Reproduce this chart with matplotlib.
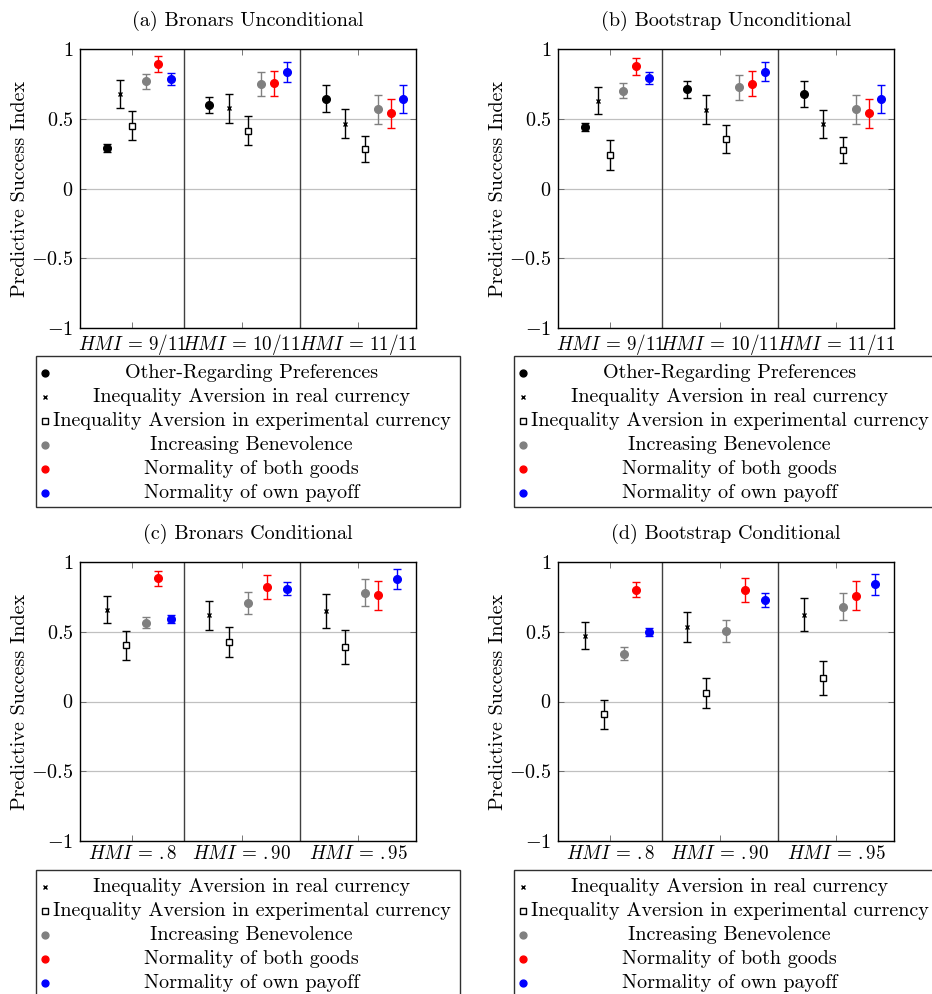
import numpy as np
import matplotlib
matplotlib.use("Agg")
import matplotlib.pyplot as plt
from matplotlib.lines import Line2D
from matplotlib.patches import Rectangle

plt.rcParams['font.family'] = 'serif'
plt.rcParams['font.serif'] = ['cmr10']
plt.rcParams['mathtext.fontset'] = 'cm'
plt.rcParams['axes.formatter.use_mathtext'] = True
plt.rcParams['font.size'] = 14.5

# --- data -------------------------------------------------------------
series = ["Other-Regarding Preferences",
          "Inequality Aversion in real currency",
          "Inequality Aversion in experimental currency",
          "Increasing Benevolence",
          "Normality of both goods",
          "Normality of own payoff"]
hmi_uncond = ["9/11", "10/11", "11/11"]
hmi_cond = [".8", ".90", ".95"]

# one row per series, one column per HMI level
bronars_unc = [[0.29, 0.60, 0.645],
               [0.68, 0.575, 0.465],
               [0.45, 0.415, 0.285],
               [0.77, 0.75, 0.57],
               [0.895, 0.755, 0.54],
               [0.79, 0.835, 0.64]]
bronars_unc_err = [[0.03, 0.06, 0.095],
                   [0.10, 0.104, 0.104],
                   [0.105, 0.104, 0.092],
                   [0.054, 0.088, 0.104],
                   [0.06, 0.09, 0.103],
                   [0.043, 0.072, 0.10]]

boot_unc = [[0.44, 0.713, 0.679],
            [0.631, 0.566, 0.463],
            [0.241, 0.356, 0.277],
            [0.703, 0.727, 0.569],
            [0.878, 0.751, 0.54],
            [0.794, 0.84, 0.641]]
boot_unc_err = [[0.03, 0.062, 0.093],
                [0.096, 0.103, 0.103],
                [0.105, 0.103, 0.093],
                [0.053, 0.088, 0.104],
                [0.06, 0.09, 0.105],
                [0.045, 0.071, 0.10]]

# conditional tests have no Other-Regarding Preferences series
bronars_cond = [[0.658, 0.62, 0.651],
                [0.403, 0.427, 0.391],
                [0.567, 0.708, 0.783],
                [0.885, 0.823, 0.763],
                [0.591, 0.809, 0.878]]
bronars_cond_err = [[0.097, 0.105, 0.12],
                    [0.104, 0.11, 0.122],
                    [0.04, 0.079, 0.096],
                    [0.054, 0.085, 0.106],
                    [0.03, 0.047, 0.073]]

boot_cond = [[0.472, 0.534, 0.625],
             [-0.092, 0.061, 0.168],
             [0.343, 0.508, 0.682],
             [0.802, 0.802, 0.761],
             [0.498, 0.73, 0.842]]
boot_cond_err = [[0.098, 0.106, 0.117],
                 [0.105, 0.108, 0.122],
                 [0.047, 0.078, 0.099],
                 [0.054, 0.084, 0.106],
                 [0.029, 0.048, 0.074]]

# --- styles and layout ------------------------------------------------
styles = [dict(marker='o', color='black', mfc='black', ms=5.5),
          dict(marker='x', color='black', mfc='black', ms=3.2, mew=1.0),
          dict(marker='s', color='black', mfc='white', ms=5.0, mew=1.0),
          dict(marker='o', color='#808080', mfc='#808080', ms=5.5),
          dict(marker='o', color='#ff0000', mfc='#ff0000', ms=5.5),
          dict(marker='o', color='#0000ff', mfc='#0000ff', ms=5.5)]

W, H = 932, 994
fig = plt.figure(figsize=(W / 100, H / 100), dpi=100)

# x axis runs in screen-like units; groups are separated by vertical rules
x_width = 335.4
group_ticks = [52.0, 161.4, 278.0]
group_seps = [103.7, 220.0]
offsets_unc = [[-25.7, -12.8, 0.0, 13.2, 26.0, 39.0],
               [-32.3, -13.2, 6.4, 19.2, 32.0, 45.0],
               [-32.2, -12.8, 6.5, 19.5, 32.3, 45.2]]
offsets_cond = [[-25.5, -6.2, 13.3, 26.0, 39.0],
                [-32.6, -13.2, 6.4, 25.5, 45.2],
                [-32.2, -12.8, 6.5, 19.5, 39.0]]


def px(x, y):
    return x / W, 1 - y / H


def draw_panel(left, top, title, values, errs, style_idx, offsets, hmi):
    ax = fig.add_axes([left / W, 1 - (top + 278.4) / H, x_width / W, 278.4 / H])
    for k, si in enumerate(style_idx):
        st = styles[si]
        xs = [group_ticks[g] + offsets[g][k] for g in range(3)]
        ax.errorbar(xs, values[k], yerr=errs[k], fmt=st['marker'],
                    color=st['color'], mfc=st['mfc'], mec=st['color'],
                    ms=st['ms'], mew=st.get('mew', 1.0), elinewidth=1.0,
                    capsize=3, capthick=1.0, zorder=3)
    for s in group_seps:
        ax.axvline(s, color='#404040', lw=1.0, zorder=2)
    ax.set_xlim(0, x_width)
    ax.set_ylim(-1, 1)
    ax.set_yticks([-1, -0.5, 0, 0.5, 1])
    ax.set_yticklabels(['$-1$', '$-0.5$', '$0$', '$0.5$', '$1$'])
    ax.set_xticks(group_ticks)
    ax.set_xticklabels([r'$HMI\,=\,%s$' % h for h in hmi], fontsize=13.8)
    ax.grid(axis='y', color='#c0c0c0', lw=0.9, zorder=1)
    ax.tick_params(direction='in', length=4, width=0.6, color='#606060',
                   top=True, right=True, pad=5)
    ax.tick_params(axis='x', pad=3)
    for sp in ax.spines.values():
        sp.set_linewidth(1.0)
    ax.text(0.5, 1 + 28.6 / 278.4, title, transform=ax.transAxes,
            ha='center', va='center')
    fig.text(*px(left - 60.3, top + 139.2), "Predictive Success Index",
             rotation=90, ha='center', va='center')
    return ax


def draw_key(left, top, style_idx):
    # boxed key below a panel: marker on the left, entry text centred
    box_l, box_w = left - 44.3, 424
    fig.add_artist(Rectangle(px(box_l, top + 151.3), box_w / W, 151.3 / H,
                             transform=fig.transFigure, fill=False,
                             ec='#303030', lw=1.0, clip_on=False))
    for k, si in enumerate(style_idx):
        st = styles[si]
        y = top + 16.7 + 24.1 * k
        ms = st['ms'] * (0.8 if st['marker'] == 's' else 0.9)
        fig.add_artist(Line2D([px(box_l + 9, y)[0]], [px(box_l + 9, y)[1]],
                              marker=st['marker'], color=st['color'],
                              mfc=st['mfc'], mec=st['color'], ms=ms,
                              mew=st.get('mew', 1.0), ls='none',
                              transform=fig.transFigure))
        fig.text(*px(box_l + 215.7, y), series[si], ha='center', va='center')


all_six = [0, 1, 2, 3, 4, 5]
five = [1, 2, 3, 4, 5]

draw_panel(80.3, 49.3, "(a) Bronars Unconditional", bronars_unc,
           bronars_unc_err, all_six, offsets_unc, hmi_uncond)
draw_panel(558.3, 49.3, "(b) Bootstrap Unconditional", boot_unc,
           boot_unc_err, all_six, offsets_unc, hmi_uncond)
draw_panel(80.3, 562.3, "(c) Bronars Conditional", bronars_cond,
           bronars_cond_err, five, offsets_cond, hmi_cond)
draw_panel(558.3, 562.3, "(d) Bootstrap Conditional", boot_cond,
           boot_cond_err, five, offsets_cond, hmi_cond)

draw_key(80.3, 356, all_six)
draw_key(558.3, 356, all_six)
draw_key(80.3, 870, five)
draw_key(558.3, 870, five)

fig.savefig("out.png", dpi=100)
